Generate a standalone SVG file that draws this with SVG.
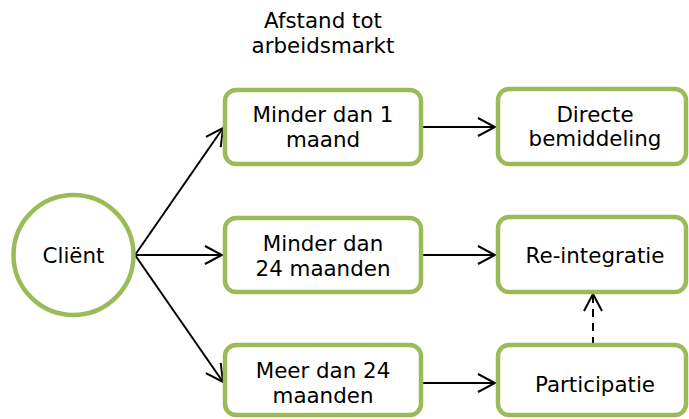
<svg xmlns="http://www.w3.org/2000/svg" width="689" height="419" viewBox="0 0 689 419">
<style>
.n{fill:#fff;stroke:#9BBB59;stroke-width:4.5}
.t{font-family:"DejaVu Sans",Verdana,sans-serif;font-size:21.4px;fill:#000;text-anchor:middle}
.c{fill:none;stroke:#000;stroke-width:2}
.d{stroke-dasharray:8,6}
</style>
<defs>
<marker id="a" viewBox="-18 -10 20 20" refX="0" refY="0" markerWidth="20" markerHeight="20" markerUnits="userSpaceOnUse" orient="auto">
<path d="M-17,-9 L0,0 L-17,9" fill="none" stroke="#000" stroke-width="2"/>
</marker>
</defs>
<rect width="689" height="419" fill="#fff"/>
<g id="title"><text class="t" x="323" y="28">Afstand tot</text><text class="t" x="323" y="53">arbeidsmarkt</text></g>
<g id="connectors">
<line class="c" x1="135" y1="255" x2="223" y2="128" marker-end="url(#a)"/>
<line class="c" x1="135" y1="255" x2="222" y2="255" marker-end="url(#a)"/>
<line class="c" x1="135" y1="255" x2="223" y2="382" marker-end="url(#a)"/>
<line class="c" x1="423" y1="127" x2="495" y2="127" marker-end="url(#a)"/>
<line class="c" x1="423" y1="255" x2="495" y2="255" marker-end="url(#a)"/>
<line class="c" x1="423" y1="383" x2="495" y2="383" marker-end="url(#a)"/>
<line class="c d" x1="593" y1="345" x2="593" y2="294" marker-end="url(#a)"/>
</g>
<g id="client"><circle class="n" cx="73.5" cy="255" r="60"/><text class="t" x="73.5" y="263">Cliënt</text></g>
<g id="minder1"><rect class="n" x="225" y="90" width="196" height="74" rx="11"/><text class="t" x="323" y="122">Minder dan 1</text><text class="t" x="323" y="147">maand</text></g>
<g id="minder24"><rect class="n" x="225" y="218" width="196" height="74" rx="11"/><text class="t" x="323" y="251">Minder dan</text><text class="t" x="323" y="276">24 maanden</text></g>
<g id="meer24"><rect class="n" x="225" y="345" width="196" height="70" rx="11"/><text class="t" x="323" y="378">Meer dan 24</text><text class="t" x="323" y="403">maanden</text></g>
<g id="directe"><rect class="n" x="498" y="89" width="188" height="75" rx="11"/><text class="t" x="595" y="122">Directe</text><text class="t" x="595" y="146">bemiddeling</text></g>
<g id="reintegratie"><rect class="n" x="498" y="217" width="188" height="75" rx="11"/><text class="t" x="595" y="263">Re-integratie</text></g>
<g id="participatie"><rect class="n" x="498" y="345" width="188" height="70" rx="11"/><text class="t" x="595" y="392">Participatie</text></g>
</svg>
